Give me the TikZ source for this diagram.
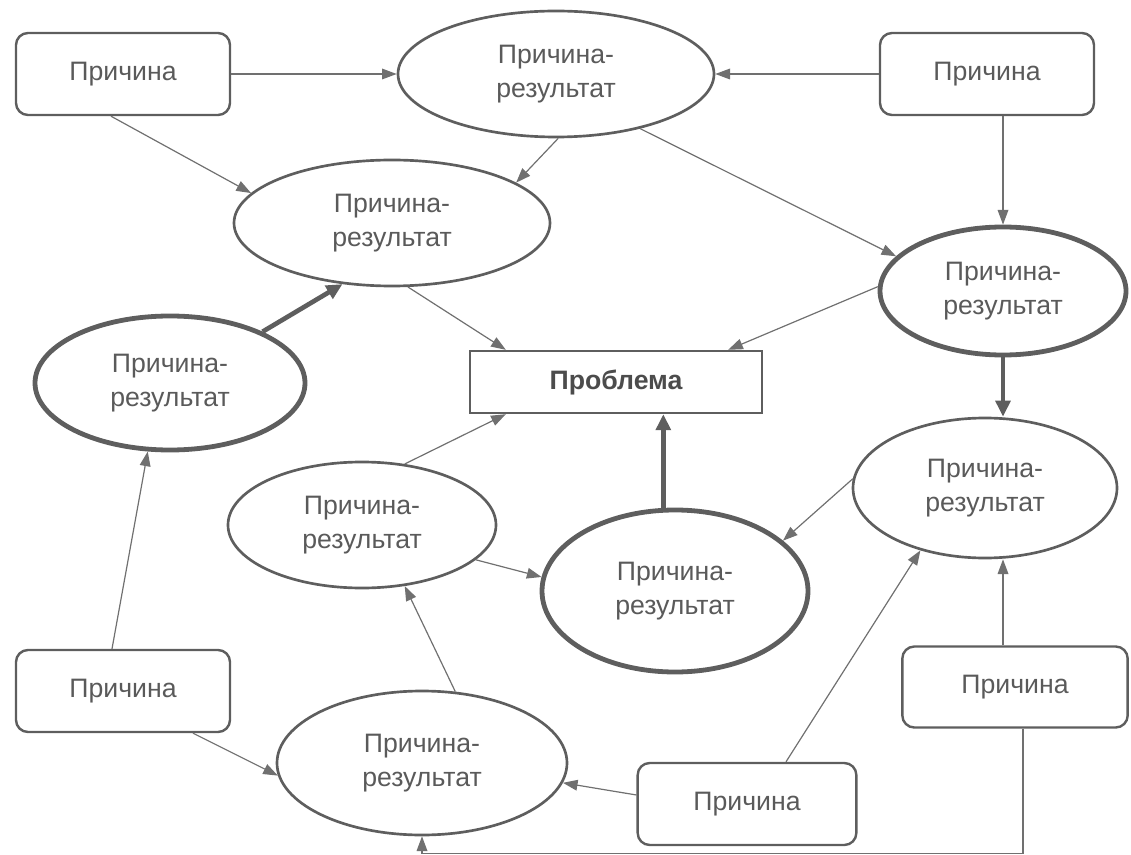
\documentclass[tikz,border=0pt]{standalone}
\usepackage{fontspec}
\setmainfont{Liberation Sans}
\usetikzlibrary{shapes.geometric,arrows.meta,calc}
\definecolor{ln}{HTML}{707070}
\definecolor{bd}{HTML}{5E5E5E}
\definecolor{tx}{HTML}{5A5A5A}
\begin{document}
\begin{tikzpicture}[x=0.75pt,y=-0.75pt,
  lbl/.style={font=\fontsize{20}{25}\selectfont, text=tx, align=center},
  cause/.style={lbl, draw=bd, line width=1.8pt, rounded corners=9pt, minimum height=61.5pt, inner sep=0pt},
  cr/.style={lbl, ellipse, draw=bd, line width=2pt, inner sep=0pt},
  crk/.style={cr, line width=3.6pt},
  arr/.style={draw=ln, line width=0.9pt, -{Triangle[length=11pt,width=8pt]}},
  tarr/.style={draw=bd, line width=3.5pt, -{Triangle[length=12pt,width=11pt]}},
]
\useasboundingbox (0,0) rectangle (1131,855);

% Cause boxes
\node[cause, minimum width=160.5pt] (C1) at (123,74) {Причина};
\node[cause, minimum width=160.5pt] (C2) at (987,74) {Причина};
\node[cause, minimum width=160.5pt] (C3) at (123,691) {Причина};
\node[cause, minimum width=164pt] (C4) at (747,804) {Причина};
\node[cause, minimum width=169pt, minimum height=60.75pt] (C5) at (1015,687) {Причина};

% Cause-result ellipses
\node[cr, minimum width=237pt, minimum height=94.5pt] (E1) at (556,74) {Причина-\\результат};
\node[cr, minimum width=237pt, minimum height=94.5pt] (E2) at (392,223) {Причина-\\результат};
\node[crk, minimum width=184.5pt, minimum height=96pt] (E3) at (1003,291) {Причина-\\результат};
\node[crk, minimum width=202.5pt, minimum height=100.5pt] (E4) at (170,383) {Причина-\\результат};
\node[cr, minimum width=201pt, minimum height=94.5pt] (E5) at (362,525) {Причина-\\результат};
\node[cr, minimum width=198pt, minimum height=105pt] (E6) at (985,488) {Причина-\\результат};
\node[crk, minimum width=199.5pt, minimum height=121.5pt] (E7) at (675,591) {Причина-\\результат};
\node[cr, minimum width=217.5pt, minimum height=108pt] (E8) at (422,763) {Причина-\\результат};

% Problem
\node[draw=bd, line width=1.8pt, minimum width=219pt, minimum height=46.5pt, inner sep=0pt,
      font=\fontsize{20}{25}\selectfont\bfseries, text=black!70] (P) at (616,382) {Проблема};

% helper coordinates
\coordinate (c5t) at ($(C5.north)+(-12,0)$);
\coordinate (c5b) at ($(C5.south)+(8,0)$);
\coordinate (c3t) at ($(C3.north)+(-11,0)$);

% connectors
\draw[arr] (C1) -- (E1);
\draw[arr] (C2) -- (E1);
\draw[arr] ($(C1.south)+(-12,0)$) -- (E2.168);
\draw[arr] (E1.-88) -- (E2.18);
\draw[arr] (E1.-33) -- (E3.162);
\draw[arr] (E3.north |- C2.south) -- (E3.north);
\draw[tarr] (E4.29) -- (E2.-129);
\draw[arr] (E2.-76) -- ($(P.north west)+(37,0)$);
\draw[arr] (E3.178) -- ($(P.north east)+(-35,0)$);
\draw[tarr] (E3.south) -- (E3.south |- E6.north);
\draw[arr] (E5.55) -- ($(P.south west)+(37,0)$);
\draw[tarr] (E7.98) -- (E7.98 |- P.south);
\draw[arr] (E6.176) -- (E7.25);
\draw[arr] (E5.-17) -- (E7.174);
\draw[arr] ($(C4.north)+(39,0)$) -- (E6.-136);
\draw[arr] (c5t) -- (c5t |- E6.south);
\draw[arr] (c5b) |- ($(E8.south)+(0,17)$) -- (E8.south);
\draw[arr] (E8.65) -- (E5.-55);
\draw[arr] (c3t) -- (E4.-108);
\draw[arr] ($(C3.south)+(70,0)$) -- (E8.-175);
\draw[arr] ($(C4.west)+(0,-9)$) -- (E8.-8);
\end{tikzpicture}
\end{document}
